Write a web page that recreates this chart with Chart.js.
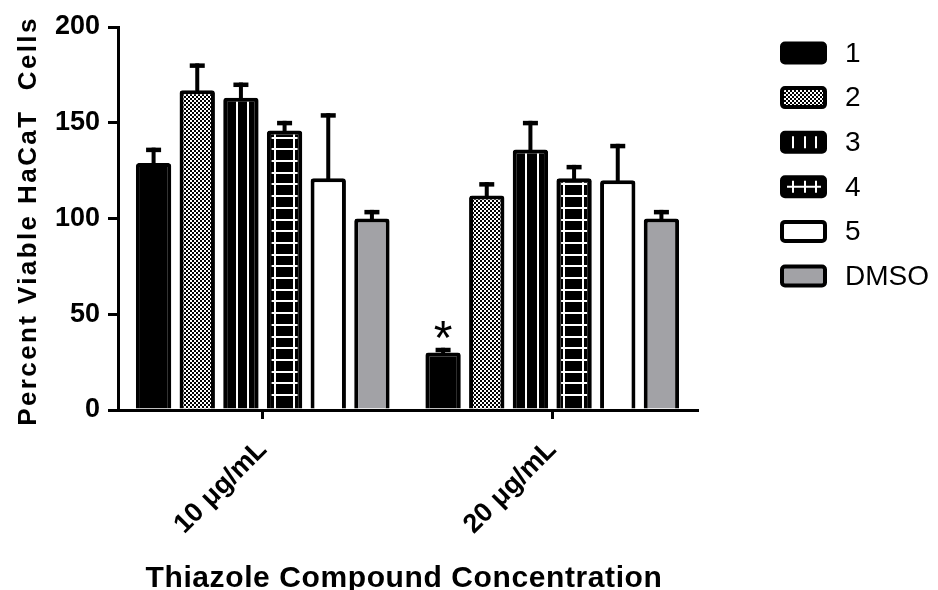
<!DOCTYPE html>
<html>
<head>
<meta charset="utf-8">
<script src="https://cdn.jsdelivr.net/npm/chart.js@4.4.0/dist/chart.umd.min.js"></script>
<style>
  html, body { margin: 0; padding: 0; background: #fff; }
</style>
</head>
<body>
<canvas id="chart" width="938" height="590"></canvas>
<script>
/* ---- data ---- */
const categories = ['10 μg/mL', '20 μg/mL'];
const seriesNames = ['1', '2', '3', '4', '5', 'DMSO'];

const compound1 = [129, 30];
const compound2 = [167, 112];
const compound3 = [163, 136];
const compound4 = [146, 121];
const compound5 = [121, 120];
const dmso      = [100, 100];

const err1 = [8, 2.5];
const err2 = [14, 7];
const err3 = [8, 15];
const err4 = [5, 7];
const err5 = [34, 19];
const errDmso = [4.5, 4.5];

const stars1 = ['', '*'];
const yTicks = [0, 50, 100, 150, 200];

const FONT = "'Liberation Sans', Arial, sans-serif";

const canvas = document.getElementById('chart');
const ctx0 = canvas.getContext('2d');

function checker() {
    const c = document.createElement('canvas');
    c.width = 4; c.height = 4;
    const g = c.getContext('2d');
    g.fillStyle = '#fff'; g.fillRect(0, 0, 4, 4);
    g.fillStyle = '#000'; g.fillRect(0, 0, 2, 2); g.fillRect(2, 2, 2, 2);
    return ctx0.createPattern(c, 'repeat');
}

const values = [compound1, compound2, compound3, compound4, compound5, dmso];
const errors = [err1, err2, err3, err4, err5, errDmso];
const fills = ['#000', checker(), '#000', '#000', '#fff', '#a2a2a6'];

// white stripes inside bars of compound 3 and 4
const barDecor = {
    id: 'barDecor',
    afterDatasetsDraw(chart) {
        const ctx = chart.ctx;
        ctx.save();
        ctx.strokeStyle = '#fff';
        ctx.lineWidth = 2;
        chart.getDatasetMeta(2).data.forEach(b => {
            [-4, 7.5].forEach(dx => {
                ctx.beginPath();
                ctx.moveTo(Math.round(b.x + dx), b.y + 4);
                ctx.lineTo(Math.round(b.x + dx), b.base);
                ctx.stroke();
            });
        });
        chart.getDatasetMeta(3).data.forEach(b => {
            [-10, 9].forEach(dx => {
                ctx.beginPath();
                ctx.moveTo(Math.round(b.x + dx), b.y + 4);
                ctx.lineTo(Math.round(b.x + dx), b.base);
                ctx.stroke();
            });
            for (let y = b.base - 13.5; y > b.y + 6; y -= 11.7) {
                ctx.beginPath();
                ctx.moveTo(b.x - 13, Math.round(y));
                ctx.lineTo(b.x + 13, Math.round(y));
                ctx.stroke();
            }
        });
        ctx.restore();
    }
};

// upward SEM bars + significance star
const errorBars = {
    id: 'errorBars',
    afterDatasetsDraw(chart) {
        const ctx = chart.ctx;
        const yScale = chart.scales.y;
        ctx.save();
        ctx.fillStyle = '#000';
        chart.data.datasets.forEach((ds, di) => {
            chart.getDatasetMeta(di).data.forEach((b, i) => {
                const top = yScale.getPixelForValue(values[di][i] + errors[di][i]);
                ctx.fillRect(b.x - 2, top, 4, b.y - top + 1);
                ctx.fillRect(b.x - 7.5, top, 15, 4.5);
            });
        });
        const meta = chart.getDatasetMeta(0);
        ctx.font = '48px ' + FONT;
        ctx.textAlign = 'center';
        ctx.textBaseline = 'alphabetic';
        stars1.forEach((s, i) => {
            if (!s) return;
            const b = meta.data[i];
            const top = yScale.getPixelForValue(compound1[i] + err1[i]);
            const m = ctx.measureText(s);
            const cy = top - 18;
            ctx.fillText(s, b.x, cy + (m.actualBoundingBoxAscent - m.actualBoundingBoxDescent) / 2);
        });
        ctx.restore();
    }
};

// legend boxes on the right
const sideLegend = {
    id: 'sideLegend',
    afterDraw(chart) {
        const ctx = chart.ctx;
        ctx.save();
        chart.data.datasets.forEach((ds, i) => {
            const cy = 53 + i * 44.6;
            const x = 780, w = 47, h = 23;
            ctx.beginPath();
            ctx.roundRect(x + 2, cy - h / 2 + 2, w - 4, h - 4, 3);
            ctx.fillStyle = ds.backgroundColor;
            ctx.fill();
            ctx.lineWidth = 4;
            ctx.strokeStyle = '#000';
            ctx.stroke();
            ctx.strokeStyle = '#fff';
            ctx.lineWidth = 2;
            if (i === 2 || i === 3) {
                [793, 805, 816].forEach(lx => {
                    ctx.beginPath();
                    ctx.moveTo(lx, cy - 6);
                    ctx.lineTo(lx, cy + 6);
                    ctx.stroke();
                });
            }
            if (i === 3) {
                ctx.beginPath();
                ctx.moveTo(787, cy);
                ctx.lineTo(821, cy);
                ctx.stroke();
            }
            ctx.fillStyle = '#000';
            ctx.font = '28px ' + FONT;
            ctx.textAlign = 'left';
            ctx.textBaseline = 'middle';
            ctx.fillText(ds.label, 845, cy + 1);
        });
        ctx.restore();
    }
};

// axis titles
const axisTitles = {
    id: 'axisTitles',
    afterDraw(chart) {
        const ctx = chart.ctx;
        ctx.save();
        ctx.fillStyle = '#000';
        ctx.textAlign = 'center';
        ctx.textBaseline = 'middle';
        ctx.font = 'bold 26px ' + FONT;
        ctx.letterSpacing = '2.4px';
        ctx.translate(29, 221);
        ctx.rotate(-Math.PI / 2);
        ctx.fillText('Percent Viable HaCaT  Cells', 0, 0);
        ctx.restore();

        ctx.save();
        ctx.fillStyle = '#000';
        ctx.textAlign = 'center';
        ctx.textBaseline = 'alphabetic';
        ctx.font = 'bold 30px ' + FONT;
        ctx.letterSpacing = '0.6px';
        ctx.fillText('Thiazole Compound Concentration', 404, 587);
        ctx.restore();
    }
};

new Chart(canvas, {
    type: 'bar',
    data: {
        labels: categories,
        datasets: seriesNames.map((name, i) => ({
            label: name,
            data: values[i],
            backgroundColor: fills[i],
            borderColor: '#000',
            borderWidth: 4,
            borderRadius: 3,
            categoryPercentage: 0.905,
            barPercentage: 0.81,
        })),
    },
    options: {
        responsive: false,
        animation: false,
        layout: { padding: { left: 0, right: 241, top: 27, bottom: 0 } },
        plugins: {
            legend: { display: false },
            tooltip: { enabled: false },
        },
        scales: {
            x: {
                grid: { offset: false, drawOnChartArea: false, color: '#000', lineWidth: 3, tickLength: 9 },
                border: { display: true, color: '#000', width: 3 },
                ticks: {
                    color: '#000', autoSkip: false, minRotation: 45, maxRotation: 45, padding: 15,
                    font: { family: FONT, size: 27, weight: 'bold' },
                },
                afterFit: s => { s.height = 180; },
            },
            y: {
                min: yTicks[0],
                max: yTicks[yTicks.length - 1],
                afterBuildTicks: s => { s.ticks = yTicks.map(v => ({ value: v })); },
                grid: { drawOnChartArea: false, color: '#000', lineWidth: 3, tickLength: 10 },
                border: { display: true, color: '#000', width: 3 },
                ticks: { color: '#000', padding: 8, font: { family: FONT, size: 27, weight: 'bold' } },
                afterFit: s => { s.width = 118; },
            },
        },
    },
    plugins: [barDecor, errorBars, sideLegend, axisTitles],
});
</script>
</body>
</html>
